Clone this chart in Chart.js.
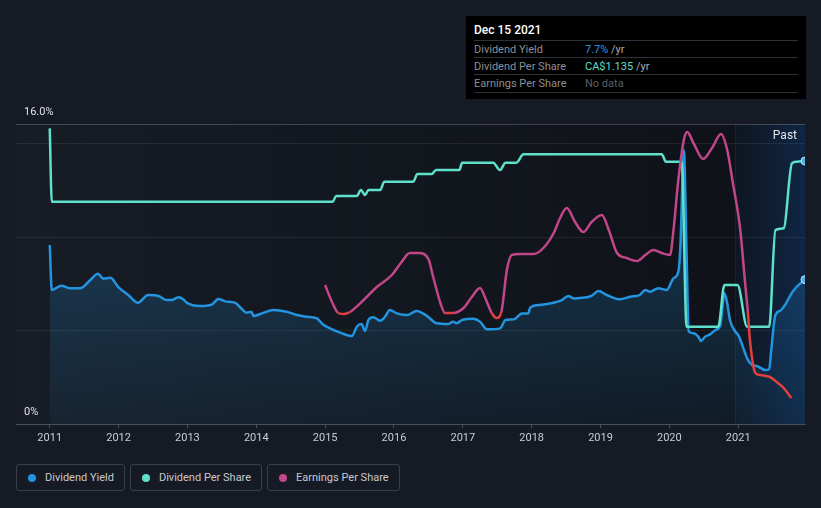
<!DOCTYPE html>
<html>
<head>
<meta charset="utf-8">
<script src="https://cdn.jsdelivr.net/npm/chart.js@4.4.1/dist/chart.umd.min.js"></script>
<style>
  body { margin:0; width:821px; height:508px; overflow:hidden; background:#151a24; font-family: Roboto, "Noto Sans", sans-serif; position:relative; }
  #wrap { position:absolute; left:0; top:0; width:821px; height:450px; }
  .tip { position:absolute; left:466px; top:16px; width:340px; height:83px; background:#000; }
  .tip .date { position:absolute; left:8px; top:7px; font-size:12px; color:#fff; font-weight:500; }
  .tip .row { position:absolute; left:8px; width:324px; height:17px; border-top:1px solid #2e3137; font-size:11px; line-height:17px; }
  .tip .lab { position:absolute; left:0; color:#8b8f96; }
  .tip .val { position:absolute; left:111px; color:#a9adb4; }
  .legend { position:absolute; top:464px; left:16px; display:flex; gap:5px; }
  .legend div { height:27px; border:1px solid #3a3f49; border-radius:3px; box-sizing:border-box; padding:0 10px 0 11px; display:flex; align-items:center; font-size:11px; color:#c5c9cf; }
  .legend span { width:8px; height:8px; border-radius:50%; margin-right:9px; display:inline-block; }
</style>
</head>
<body>
<div id="wrap"><canvas id="chart" width="821" height="450"></canvas></div>

<div class="tip">
  <div class="date">Dec 15 2021</div>
  <div class="row" style="top:24px"><span class="lab">Dividend Yield</span><span class="val"><span style="color:#2d9be5">7.7%</span> /yr</span></div>
  <div class="row" style="top:41px"><span class="lab">Dividend Per Share</span><span class="val"><span style="color:#62dccb">CA$1.135</span> /yr</span></div>
  <div class="row" style="top:58px; border-bottom:1px solid #2e3137"><span class="lab">Earnings Per Share</span><span class="val" style="color:#5a5e66">No data</span></div>
</div>

<div class="legend">
  <div><span style="background:#2394df"></span>Dividend Yield</div>
  <div><span style="background:#5fe0cb"></span>Dividend Per Share</div>
  <div><span style="background:#c2468a"></span>Earnings Per Share</div>
</div>

<script>
// dividend yield (%)
const yieldDates = [2011.0, 2011.03, 2011.17, 2011.29, 2011.44, 2011.59, 2011.70, 2011.78, 2011.88, 2012.0,
  2012.14, 2012.28, 2012.43, 2012.58, 2012.70, 2012.77, 2012.87, 2012.94, 2012.99, 2013.18,
  2013.35, 2013.45, 2013.55, 2013.69, 2013.79, 2013.86, 2013.93, 2013.96, 2014.08, 2014.25,
  2014.44, 2014.59, 2014.73, 2014.88, 2014.97, 2015.07, 2015.22, 2015.39, 2015.46, 2015.53,
  2015.58, 2015.63, 2015.70, 2015.80, 2015.87, 2015.94, 2016.04, 2016.19, 2016.33, 2016.48,
  2016.62, 2016.79, 2016.86, 2016.91, 2016.99, 2017.15, 2017.25, 2017.35, 2017.54, 2017.62,
  2017.74, 2017.86, 2017.95, 2017.98, 2018.12, 2018.32, 2018.44, 2018.53, 2018.61, 2018.80,
  2018.87, 2018.97, 2019.09, 2019.28, 2019.43, 2019.57, 2019.65, 2019.72, 2019.84, 2019.96,
  2020.06, 2020.13, 2020.16, 2020.21, 2020.25, 2020.28, 2020.35, 2020.42, 2020.46, 2020.52,
  2020.59, 2020.67, 2020.74, 2020.80, 2020.84, 2020.88, 2020.96, 2021.0, 2021.05, 2021.13,
  2021.20, 2021.27, 2021.32, 2021.39, 2021.45, 2021.48, 2021.54, 2021.61, 2021.68, 2021.78,
  2021.85, 2021.97];
const yieldValues = [9.55, 7.15, 7.38, 7.24, 7.24, 7.68, 8.02, 7.75, 7.80, 7.29,
  6.88, 6.47, 6.88, 6.83, 6.61, 6.61, 6.76, 6.65, 6.47, 6.29,
  6.36, 6.67, 6.54, 6.47, 6.13, 5.94, 5.99, 5.76, 5.90, 6.08,
  5.99, 5.81, 5.72, 5.63, 5.31, 5.10, 4.87, 4.69, 5.19, 5.33,
  4.96, 5.55, 5.69, 5.51, 5.72, 6.08, 5.90, 5.81, 6.03, 5.76,
  5.37, 5.33, 5.46, 5.37, 5.55, 5.62, 5.46, 5.05, 5.10, 5.55,
  5.58, 5.90, 5.90, 6.22, 6.35, 6.47, 6.61, 6.83, 6.70, 6.76,
  6.83, 7.09, 6.88, 6.65, 6.79, 6.88, 7.15, 7.06, 7.24, 7.15,
  7.77, 8.12, 9.46, 14.6, 9.10, 4.95, 4.84, 4.66, 4.43, 4.66,
  4.78, 5.01, 5.28, 6.97, 6.44, 5.55, 4.92, 4.75, 4.30, 3.50,
  3.15, 3.09, 3.00, 2.88, 2.92, 3.95, 5.81, 6.04, 6.35, 7.00,
  7.32, 7.70];

// dividend per share (CA$)
const dpsDates = [2011.0, 2011.03, 2015.11, 2015.16, 2015.46, 2015.52, 2015.58, 2015.63, 2015.80, 2015.86,
  2016.28, 2016.34, 2016.55, 2016.61, 2016.95, 2016.99, 2017.44, 2017.54, 2017.62, 2017.78,
  2017.88, 2019.89, 2019.95, 2020.18, 2020.25, 2020.71, 2020.80, 2020.99, 2021.13, 2021.45,
  2021.54, 2021.66, 2021.78, 2021.85, 2021.97];
const dpsValues = [1.276, 0.959, 0.959, 0.984, 0.984, 1.01, 0.988, 1.01, 1.01, 1.046,
  1.046, 1.079, 1.079, 1.096, 1.096, 1.128, 1.128, 1.096, 1.128, 1.128,
  1.164, 1.164, 1.132, 1.132, 0.42, 0.42, 0.60, 0.60, 0.42, 0.42,
  0.837, 0.845, 1.125, 1.132, 1.135];

// earnings per share (CA$)
const epsDates = [2015.0, 2015.10, 2015.19, 2015.27, 2015.36, 2015.56, 2015.75, 2015.97, 2016.11, 2016.23,
  2016.36, 2016.50, 2016.57, 2016.67, 2016.74, 2016.86, 2017.01, 2017.13, 2017.25, 2017.32,
  2017.42, 2017.49, 2017.56, 2017.64, 2017.71, 2017.83, 2018.03, 2018.17, 2018.32, 2018.42,
  2018.51, 2018.63, 2018.75, 2018.87, 2019.02, 2019.12, 2019.24, 2019.38, 2019.53, 2019.65,
  2019.77, 2019.89, 2020.01, 2020.06, 2020.13, 2020.21, 2020.26, 2020.35, 2020.49, 2020.62,
  2020.75, 2020.84, 2020.92, 2021.03, 2021.10, 2021.14, 2021.17, 2021.25, 2021.32, 2021.46,
  2021.56, 2021.66, 2021.77];
const epsValues = [0.27, 0.10, -0.01, -0.02, 0.0, 0.12, 0.25, 0.37, 0.50, 0.59,
  0.59, 0.53, 0.35, 0.10, -0.01, -0.01, 0.04, 0.15, 0.24, 0.15,
  -0.01, -0.06, 0.0, 0.42, 0.57, 0.58, 0.58, 0.64, 0.79, 0.95,
  1.04, 0.90, 0.80, 0.90, 0.97, 0.82, 0.59, 0.54, 0.51, 0.57,
  0.62, 0.59, 0.57, 0.82, 1.32, 1.72, 1.80, 1.69, 1.53, 1.64,
  1.78, 1.62, 1.30, 0.82, 0.29, 0.0, -0.28, -0.61, -0.63, -0.65,
  -0.70, -0.76, -0.86];

const yearTicks = [2011, 2012, 2013, 2014, 2015, 2016, 2017, 2018, 2019, 2020, 2021];
const yieldTicks = [0, 5, 10, 15, 16];
const pastStart = 2020.96;

const pts = (xs, ys) => xs.map((x, i) => ({ x: x, y: ys[i] }));

// plot background, past region and horizontal grid, drawn under the axes
const background = {
  id: 'background',
  beforeDraw(chart) {
    const { ctx, chartArea: a, scales } = chart;
    ctx.save();
    let g = ctx.createLinearGradient(a.left, 0, a.right, 0);
    g.addColorStop(0, '#171c25');
    g.addColorStop(1, '#0e1117');
    ctx.fillStyle = g;
    ctx.fillRect(a.left, a.top, a.right - a.left, a.bottom - a.top);
    const px = scales.x.getPixelForValue(pastStart);
    g = ctx.createLinearGradient(px, 0, a.right, 0);
    g.addColorStop(0, 'rgba(20,100,200,0.05)');
    g.addColorStop(1, 'rgba(20,100,200,0.25)');
    ctx.fillStyle = g;
    ctx.fillRect(px, a.top, a.right - px, a.bottom - a.top);
    ctx.fillStyle = 'rgba(255,255,255,0.06)';
    ctx.fillRect(Math.round(px), a.top, 1, a.bottom - a.top);
    scales.y.ticks.forEach(t => {
      if (t.value === 0) return;
      const y = Math.round(scales.y.getPixelForValue(t.value)) + 0.5;
      ctx.strokeStyle = t.value === 16 ? 'rgba(255,255,255,0.2)' : 'rgba(255,255,255,0.07)';
      ctx.lineWidth = 1;
      ctx.beginPath(); ctx.moveTo(a.left, y); ctx.lineTo(a.right, y); ctx.stroke();
    });
    ctx.fillStyle = '#e4e6ea';
    ctx.font = '12px Roboto';
    ctx.textAlign = 'right';
    ctx.textBaseline = 'middle';
    ctx.fillText('Past', a.right - 8, a.top + 12);
    ctx.restore();
  }
};

const lastRadius = (n) => (c) => c.dataIndex === n - 1 ? 4 : 0;

new Chart(document.getElementById('chart'), {
  type: 'line',
  data: {
    datasets: [
      {
        label: 'Earnings Per Share',
        data: pts(epsDates, epsValues),
        yAxisID: 'yEps',
        borderColor: '#c2468a',
        borderWidth: 2.5,
        pointRadius: 0,
        cubicInterpolationMode: 'monotone',
        segment: {
          borderColor: c => (c.p0.parsed.y <= 0 && c.p1.parsed.y <= 0) ? '#e2403f' : '#c2468a'
        },
        order: 0
      },
      {
        label: 'Dividend Per Share',
        data: pts(dpsDates, dpsValues),
        yAxisID: 'yDps',
        borderColor: '#5fe0cb',
        borderWidth: 2.5,
        pointRadius: lastRadius(dpsDates.length),
        pointBackgroundColor: '#4fb0ea',
        pointBorderColor: '#c4e4f8',
        pointBorderWidth: 1,
        cubicInterpolationMode: 'monotone',
        order: 1
      },
      {
        label: 'Dividend Yield',
        data: pts(yieldDates, yieldValues),
        yAxisID: 'y',
        borderColor: '#2394df',
        borderWidth: 2.5,
        pointRadius: lastRadius(yieldDates.length),
        pointBackgroundColor: '#4fb0ea',
        pointBorderColor: '#c4e4f8',
        pointBorderWidth: 1,
        cubicInterpolationMode: 'monotone',
        fill: 'origin',
        backgroundColor: (c) => {
          const a = c.chart.chartArea;
          if (!a) return 'rgba(35,148,223,0.15)';
          const g = c.chart.ctx.createLinearGradient(0, a.top, 0, a.bottom);
          g.addColorStop(0, 'rgba(35,148,223,0.34)');
          g.addColorStop(1, 'rgba(35,148,223,0.07)');
          return g;
        },
        order: 2
      }
    ]
  },
  options: {
    responsive: false,
    animation: false,
    layout: { padding: { left: 16, right: 16, top: 124, bottom: 0 } },
    plugins: { legend: { display: false }, tooltip: { enabled: false } },
    scales: {
      x: {
        type: 'linear',
        min: 2010.51,
        max: 2021.97,
        afterBuildTicks: s => { s.ticks = yearTicks.map(v => ({ value: v })); },
        afterFit: s => { s.height = 26; },
        ticks: { callback: v => String(v), color: '#c8ccd2', font: { size: 11, family: 'Roboto' }, padding: 4, maxRotation: 0, autoSkip: false },
        grid: { drawOnChartArea: false, drawTicks: true, tickLength: 4, color: '#4b5058' },
        border: { color: '#4b5058' }
      },
      y: {
        min: 0,
        max: 16,
        afterBuildTicks: s => { s.ticks = yieldTicks.map(v => ({ value: v })); },
        afterFit: s => { s.width = 0; },
        ticks: {
          mirror: true,
          padding: 8,
          labelOffset: -12,
          color: '#dfe1e5',
          font: { size: 11, family: 'Roboto' },
          callback: v => v === 16 ? '16.0%' : (v === 0 ? '0%' : '')
        },
        grid: { display: false },
        border: { display: false }
      },
      yDps: { display: false, min: 0, max: 1.2948 },
      yEps: { display: false, min: -1.12, max: 1.88 }
    }
  },
  plugins: [background]
});
</script>
</body>
</html>
